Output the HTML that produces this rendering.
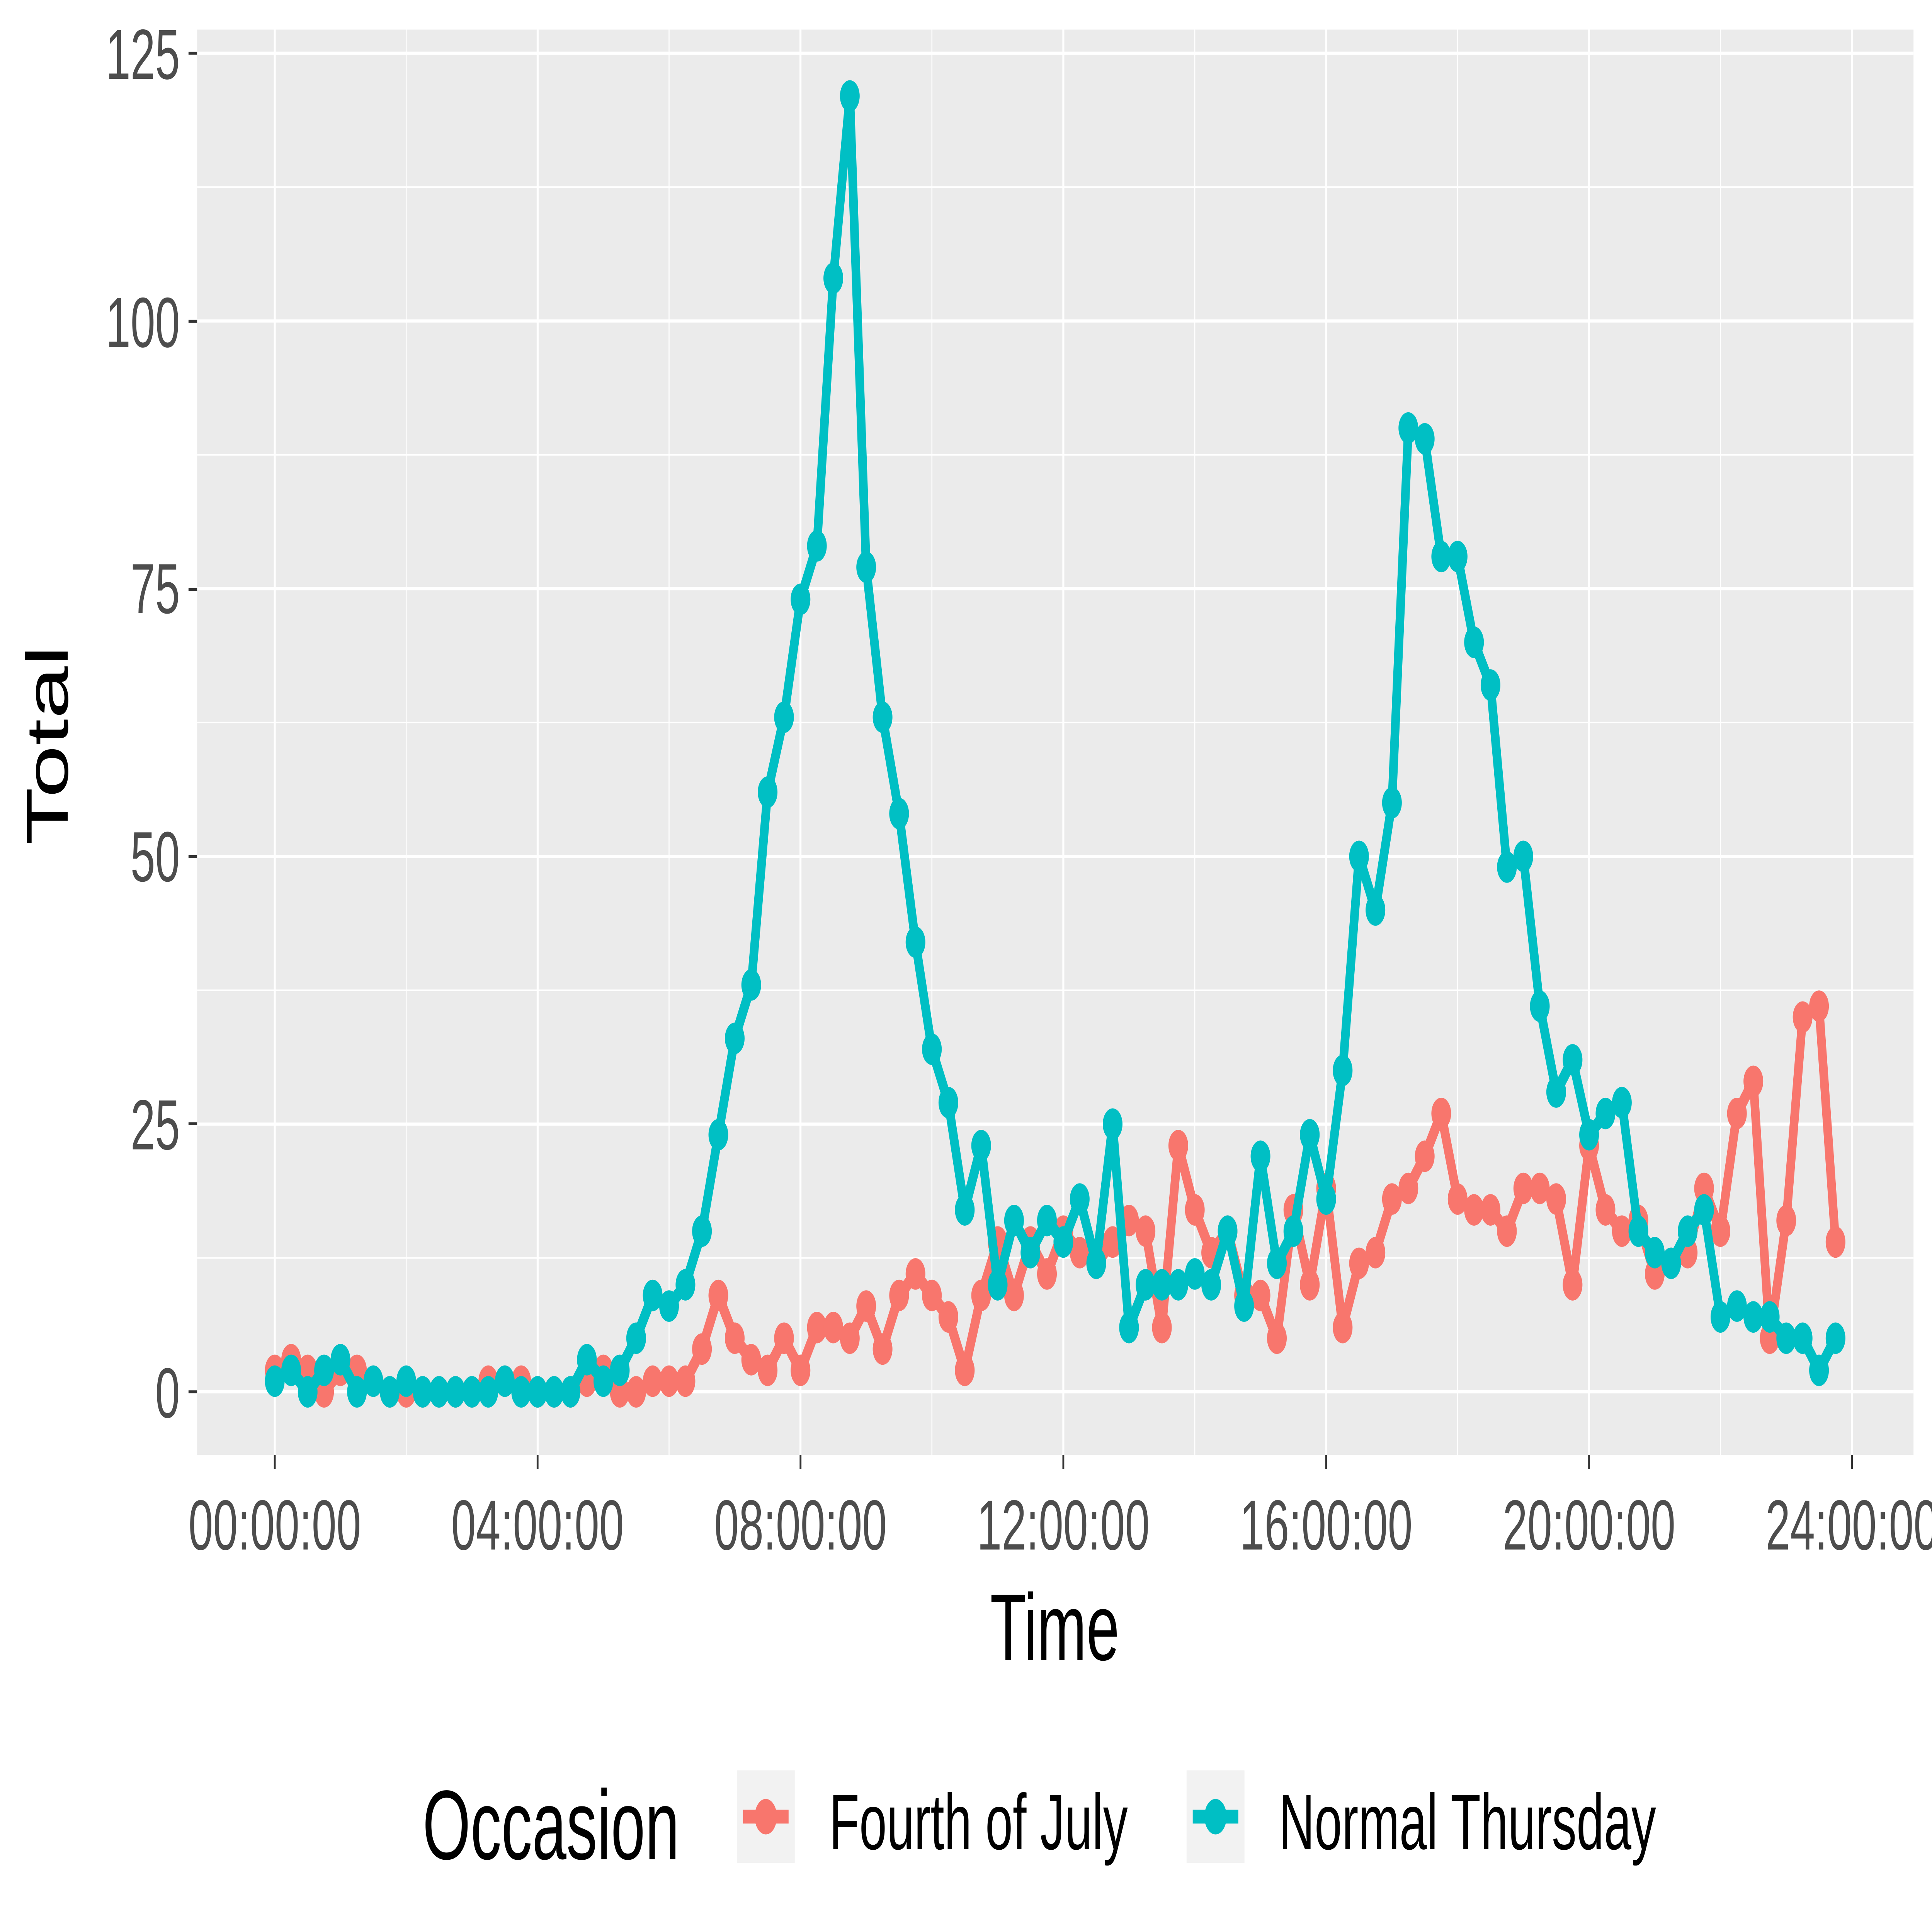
<!DOCTYPE html>
<html><head><meta charset="utf-8"><style>html,body{margin:0;padding:0;background:#fff;width:100%;height:100%;overflow:hidden}svg{display:block;position:fixed;left:0;top:0;width:100vw;height:100vh}</style></head>
<body>
<svg id="s" xmlns="http://www.w3.org/2000/svg" viewBox="0 0 1568 980" preserveAspectRatio="none" font-family="Liberation Sans, sans-serif">
<rect x="0" y="0" width="1568" height="980" fill="#fff"/>
<rect x="160" y="15" width="1393" height="723" fill="#ebebeb"/>
<g id="grid"></g>
<g id="series"></g>
<g fill="#4d4d4d" font-size="36" text-anchor="end">
<text x="146" y="719">0</text><text x="146" y="583">25</text><text x="146" y="447">50</text><text x="146" y="311">75</text><text x="146" y="176">100</text><text x="146" y="40">125</text>
</g>
<g stroke="#333" stroke-width="1.5">
<line x1="153" x2="160" y1="706" y2="706"/><line x1="153" x2="160" y1="570" y2="570"/><line x1="153" x2="160" y1="434.5" y2="434.5"/><line x1="153" x2="160" y1="299" y2="299"/><line x1="153" x2="160" y1="163" y2="163"/><line x1="153" x2="160" y1="27" y2="27"/>
<line x1="223" x2="223" y1="738" y2="745"/><line x1="436.3" x2="436.3" y1="738" y2="745"/><line x1="649.7" x2="649.7" y1="738" y2="745"/><line x1="863" x2="863" y1="738" y2="745"/><line x1="1076.3" x2="1076.3" y1="738" y2="745"/><line x1="1289.7" x2="1289.7" y1="738" y2="745"/><line x1="1503" x2="1503" y1="738" y2="745"/>
</g>
<g fill="#4d4d4d" font-size="36" text-anchor="middle">
<text x="223" y="786">00:00:00</text><text x="436.3" y="786">04:00:00</text><text x="649.7" y="786">08:00:00</text><text x="863" y="786">12:00:00</text><text x="1076.3" y="786">16:00:00</text><text x="1289.7" y="786">20:00:00</text><text x="1503" y="786">24:00:00</text>
</g>
<text x="856" y="842" font-size="48" text-anchor="middle" fill="#000">Time</text>
<text transform="translate(55,378) rotate(-90)" font-size="48" text-anchor="middle" fill="#000">Total</text>
<text x="343" y="943" font-size="50" fill="#000">Occasion</text>
<rect x="598" y="898" width="47" height="47" fill="#f2f2f2"/>
<line x1="603" x2="640" y1="921.5" y2="921.5" stroke="#F8766D" stroke-width="7"/><circle cx="621.5" cy="921.5" r="9" fill="#F8766D"/>
<text x="673" y="938" font-size="40" fill="#000">Fourth of July</text>
<rect x="963" y="898" width="47" height="47" fill="#f2f2f2"/>
<line x1="968" x2="1005" y1="921.5" y2="921.5" stroke="#00BFC4" stroke-width="7"/><circle cx="986.5" cy="921.5" r="9" fill="#00BFC4"/>
<text x="1038" y="938" font-size="40" fill="#000">Normal Thursday</text>
</svg>
<script>
function X(i){return 223+i*1280/96;}
function Y(v){return 706-v*5.432;}
var g=document.getElementById('grid'),h='';
for(var k=0;k<=10;k++){var v=k*12.5,y=Y(v);h+='<line x1="160" x2="1553" y1="'+y+'" y2="'+y+'" stroke="#fff" stroke-width="'+(k%2?0.8:1.6)+'"/>';}
h+='<line x1="160" x2="1553" y1="'+Y(-12.5)+'" y2="'+Y(-12.5)+'" stroke="#fff" stroke-width="0.8"/>';
for(var k=-1;k<=13;k++){var x=223+k*1280/12;if(x<160||x>1553)continue;h+='<line x1="'+x+'" x2="'+x+'" y1="15" y2="738" stroke="#fff" stroke-width="'+(k%2?0.8:1.6)+'"/>';}
g.innerHTML=h;
var teal=[1,2,0,2,3,0,1,0,1,0,0,0,0,0,1,0,0,0,0,3,1,2,5,9,8,10,15,24,33,38,56,63,74,79,104,121,77,63,54,42,32,27,17,23,10,16,13,16,14,18,12,25,6,10,10,10,11,10,15,8,22,12,15,24,18,30,50,45,55,90,89,78,78,70,66,49,50,36,28,31,24,26,27,15,13,12,15,17,7,8,7,7,5,5,2,5];
var red=[2,3,2,0,2,2,1,0,0,0,0,0,0,1,1,1,0,0,0,1,2,0,0,1,1,1,4,9,5,3,2,5,2,6,6,5,8,4,9,11,9,7,2,9,14,9,14,11,15,13,12,14,16,15,6,23,17,13,15,9,9,5,17,10,19,6,12,13,18,19,22,26,18,17,17,15,19,19,18,10,23,17,15,16,11,12,13,19,15,26,29,5,16,35,36,14,10];
red=red.slice(0,96);
function draw(d,c){var p='',s='';for(var i=0;i<d.length;i++){p+=(i?'L':'M')+X(i).toFixed(1)+' '+Y(d[i]).toFixed(1);s+='<circle cx="'+X(i).toFixed(1)+'" cy="'+Y(d[i]).toFixed(1)+'" r="8" fill="'+c+'"/>';}
return '<path d="'+p+'" fill="none" stroke="'+c+'" stroke-width="7" stroke-linejoin="round"/>'+s;}
document.getElementById('series').innerHTML=draw(red,'#F8766D')+draw(teal,'#00BFC4');
</script>
</body></html>
